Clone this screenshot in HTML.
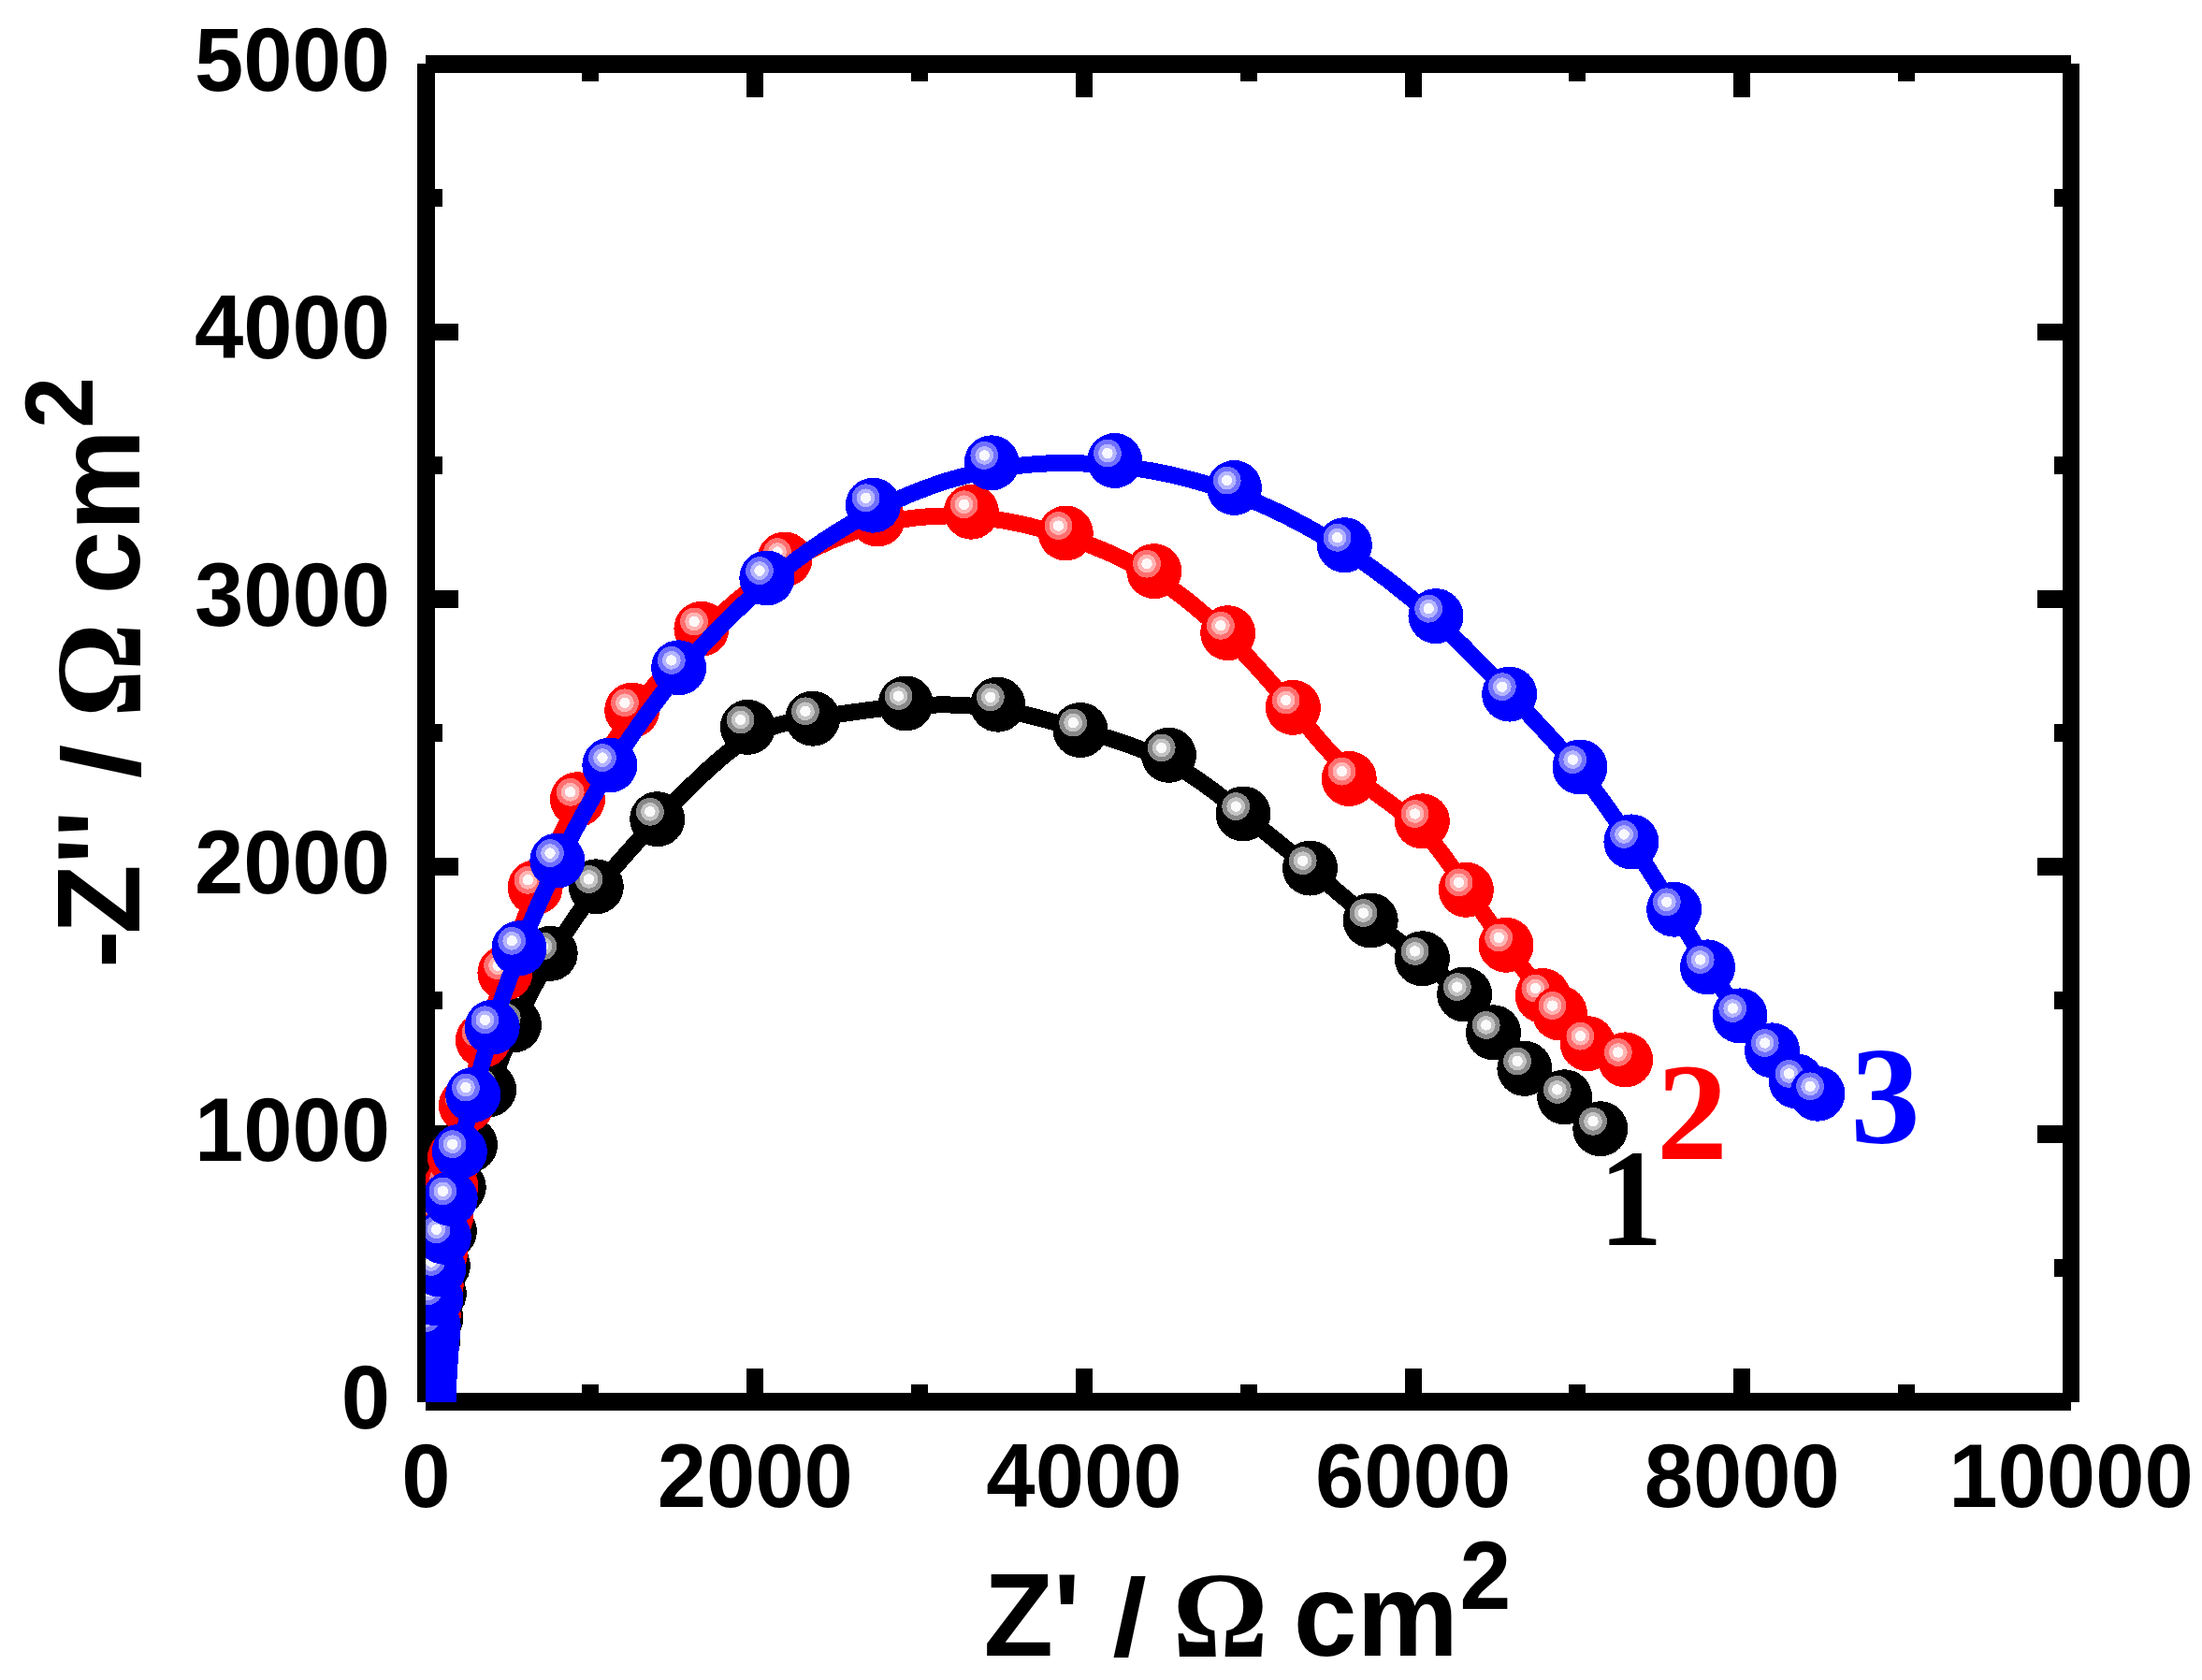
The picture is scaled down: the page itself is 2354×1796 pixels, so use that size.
<!DOCTYPE html>
<html lang="en"><head><meta charset="utf-8"><title>Nyquist plot</title>
<style>html,body{margin:0;padding:0;background:#fff}svg{display:block}.t{font-family:"Liberation Sans",Arial,sans-serif;font-weight:bold;fill:#000}.s{font-family:"Liberation Serif","Times New Roman",serif;font-weight:bold}</style></head><body>
<svg width="2354" height="1796" viewBox="0 0 2354 1796">
<rect width="2354" height="1796" fill="#fff"/>
<defs>
<clipPath id="cp"><rect x="455" y="60" width="1770" height="1439"/></clipPath>
<g id="k"><circle r="29.5" fill="#000"/><circle cx="-7.8" cy="-7.9" r="14.9" fill="#888"/><circle cx="-7.8" cy="-7.9" r="9.9" fill="#c4c4c4"/><circle cx="-7.8" cy="-7.9" r="5.7" fill="#fbfbfb"/></g>
<g id="r"><circle r="29.5" fill="#f00"/><circle cx="-7.8" cy="-7.9" r="14.9" fill="#ff7070"/><circle cx="-7.8" cy="-7.9" r="9.9" fill="#ffb4b4"/><circle cx="-7.8" cy="-7.9" r="5.7" fill="#fff8f8"/></g>
<g id="b"><circle r="29.5" fill="#00f"/><circle cx="-7.8" cy="-7.9" r="14.9" fill="#7070ff"/><circle cx="-7.8" cy="-7.9" r="9.9" fill="#b4b4ff"/><circle cx="-7.8" cy="-7.9" r="5.7" fill="#f8f8ff"/></g>
</defs>
<g fill="#000" shape-rendering="crispEdges">
<rect x="446" y="68" width="19" height="1431"/><rect x="2205" y="68" width="18" height="1431"/><rect x="455" y="59" width="1759" height="19"/><rect x="455" y="1489" width="1759" height="19"/>
</g>
<g fill="#000" shape-rendering="crispEdges"><rect x="622" y="1480" width="18" height="12"/><rect x="622" y="74" width="18" height="13"/><rect x="798" y="1463" width="18" height="30"/><rect x="798" y="74" width="18" height="30"/><rect x="974" y="1480" width="18" height="12"/><rect x="974" y="74" width="18" height="13"/><rect x="1150" y="1463" width="18" height="30"/><rect x="1150" y="74" width="18" height="30"/><rect x="1326" y="1480" width="18" height="12"/><rect x="1326" y="74" width="18" height="13"/><rect x="1502" y="1463" width="18" height="30"/><rect x="1502" y="74" width="18" height="30"/><rect x="1677" y="1480" width="18" height="12"/><rect x="1677" y="74" width="18" height="13"/><rect x="1853" y="1463" width="18" height="30"/><rect x="1853" y="74" width="18" height="30"/><rect x="2029" y="1480" width="18" height="12"/><rect x="2029" y="74" width="18" height="13"/><rect x="460" y="1346" width="13" height="19"/><rect x="2196" y="1346" width="13" height="19"/><rect x="460" y="1203" width="30" height="19"/><rect x="2178" y="1203" width="31" height="19"/><rect x="460" y="1060" width="13" height="19"/><rect x="2196" y="1060" width="13" height="19"/><rect x="460" y="917" width="30" height="19"/><rect x="2178" y="917" width="31" height="19"/><rect x="460" y="774" width="13" height="19"/><rect x="2196" y="774" width="13" height="19"/><rect x="460" y="631" width="30" height="19"/><rect x="2178" y="631" width="31" height="19"/><rect x="460" y="488" width="13" height="19"/><rect x="2196" y="488" width="13" height="19"/><rect x="460" y="346" width="30" height="18"/><rect x="2178" y="346" width="31" height="18"/><rect x="460" y="202" width="13" height="19"/><rect x="2196" y="202" width="13" height="19"/></g>
<text class="t" font-size="94" text-anchor="end" transform="translate(417.0 1527.0) scale(1 1.034)" xml:space="preserve">0</text>
<text class="t" font-size="94" text-anchor="end" transform="translate(417.0 1241.0) scale(1 1.034)" xml:space="preserve">1000</text>
<text class="t" font-size="94" text-anchor="end" transform="translate(417.0 955.0) scale(1 1.034)" xml:space="preserve">2000</text>
<text class="t" font-size="94" text-anchor="end" transform="translate(417.0 669.0) scale(1 1.034)" xml:space="preserve">3000</text>
<text class="t" font-size="94" text-anchor="end" transform="translate(417.0 383.0) scale(1 1.034)" xml:space="preserve">4000</text>
<text class="t" font-size="94" text-anchor="end" transform="translate(417.0 97.0) scale(1 1.034)" xml:space="preserve">5000</text>
<text class="t" font-size="94" text-anchor="middle" transform="translate(455.5 1611.0) scale(1 1.034)" xml:space="preserve">0</text>
<text class="t" font-size="94" text-anchor="middle" transform="translate(807.2 1611.0) scale(1 1.034)" xml:space="preserve">2000</text>
<text class="t" font-size="94" text-anchor="middle" transform="translate(1158.9 1611.0) scale(1 1.034)" xml:space="preserve">4000</text>
<text class="t" font-size="94" text-anchor="middle" transform="translate(1510.6 1611.0) scale(1 1.034)" xml:space="preserve">6000</text>
<text class="t" font-size="94" text-anchor="middle" transform="translate(1862.3 1611.0) scale(1 1.034)" xml:space="preserve">8000</text>
<text class="t" font-size="94" text-anchor="middle" transform="translate(2214.0 1611.0) scale(1 1.034)" xml:space="preserve">10000</text>
<text class="t" font-size="122" transform="translate(1051.5 1770.0) scale(1 1.040)" xml:space="preserve">Z'</text>
<text class="t" font-size="122" text-anchor="middle" transform="translate(1207.6 1770.0) scale(1.08 0.965)" xml:space="preserve">/</text>
<text class="s" font-size="127" text-anchor="middle" transform="translate(1304.5 1771.0) scale(1 1.040)" xml:space="preserve">Ω</text>
<text class="t" font-size="122" text-anchor="middle" transform="translate(1470.8 1770.0) scale(1 1.040)" xml:space="preserve">cm</text>
<text class="t" font-size="98.5" text-anchor="middle" transform="translate(1588.0 1719.5) scale(1 1.060)" xml:space="preserve">2</text>
<text class="t" font-size="122" transform="translate(149.0 1035.0) rotate(-90) scale(1 1.040)" xml:space="preserve">-</text>
<text class="t" font-size="122" transform="translate(149.0 998.7) rotate(-90) scale(1 1.040)" xml:space="preserve">Z''</text>
<text class="t" font-size="122" text-anchor="middle" transform="translate(149.0 814.0) rotate(-90) scale(1.08 0.965)" xml:space="preserve">/</text>
<text class="s" font-size="126" text-anchor="middle" transform="translate(149.5 716.5) rotate(-90) scale(1 1.040)" xml:space="preserve">Ω</text>
<text class="t" font-size="122" text-anchor="middle" transform="translate(149.0 547.3) rotate(-90) scale(1 1.040)" xml:space="preserve">cm</text>
<text class="t" font-size="98.5" text-anchor="middle" transform="translate(99.0 430.3) rotate(-90) scale(1 1.060)" xml:space="preserve">2</text>
<g clip-path="url(#cp)" shape-rendering="crispEdges">
<path d="M457.6 1492.0C457.6 1492.0 457.6 1492.0 457.7 1489.7C457.8 1487.3 458.0 1482.7 458.3 1477.7C458.5 1472.7 458.9 1467.3 459.3 1462.2C459.8 1457.0 460.4 1452.0 461.0 1447.0C461.7 1442.0 462.3 1437.0 463.2 1430.7C464.0 1424.3 465.0 1416.7 466.1 1408.5C467.1 1400.3 468.3 1391.7 469.5 1382.3C470.7 1373.0 472.1 1363.0 473.9 1351.9C475.7 1340.8 478.1 1328.5 480.9 1314.6C483.7 1300.6 486.9 1285.0 490.6 1269.6C494.3 1254.2 498.4 1239.0 503.8 1221.6C509.2 1204.2 515.9 1184.4 523.7 1163.1C531.6 1141.7 540.5 1118.7 551.5 1094.5C562.4 1070.3 575.3 1044.8 589.9 1020.2C604.6 995.5 620.9 971.7 640.0 947.7C659.1 923.8 680.9 899.7 707.9 871.3C734.9 842.9 767.2 810.2 794.8 792.2C822.5 774.3 845.6 771.3 873.8 767.0C901.9 762.8 935.1 757.4 968.1 754.9C1001.1 752.4 1033.8 752.8 1065.0 757.6C1096.1 762.3 1125.5 771.4 1156.0 780.4C1186.5 789.4 1218.0 798.4 1247.0 813.3C1276.0 828.2 1302.5 849.1 1327.7 869.2C1352.8 889.4 1376.7 908.7 1399.4 927.7C1422.1 946.7 1443.6 965.4 1463.6 981.5C1483.6 997.6 1502.0 1011.2 1518.7 1024.4C1535.5 1037.5 1550.5 1050.3 1563.2 1063.4C1575.9 1076.6 1586.2 1090.2 1596.9 1103.4C1607.6 1116.7 1618.8 1129.5 1631.5 1141.0C1644.1 1152.5 1658.4 1162.7 1671.9 1173.4C1685.3 1184.1 1698.1 1195.4 1704.4 1201.0C1710.8 1206.7 1710.8 1206.7 1710.8 1206.7" fill="none" stroke="#000" stroke-width="18" stroke-linejoin="round" stroke-linecap="butt"/>
<use href="#k" x="457.6" y="1492.0"/><use href="#k" x="458.2" y="1478.0"/><use href="#k" x="459.2" y="1462.0"/><use href="#k" x="461.0" y="1447.0"/><use href="#k" x="463.0" y="1432.0"/><use href="#k" x="466.0" y="1409.0"/><use href="#k" x="469.4" y="1383.0"/><use href="#k" x="473.4" y="1353.0"/><use href="#k" x="480.4" y="1316.3"/><use href="#k" x="490.2" y="1269.3"/><use href="#k" x="502.5" y="1223.9"/><use href="#k" x="522.6" y="1164.7"/><use href="#k" x="549.5" y="1095.7"/><use href="#k" x="588.2" y="1019.4"/><use href="#k" x="637.3" y="947.8"/><use href="#k" x="702.7" y="875.7"/><use href="#k" x="799.4" y="777.4"/><use href="#k" x="868.7" y="768.2"/><use href="#k" x="968.3" y="752.0"/><use href="#k" x="1066.6" y="753.2"/><use href="#k" x="1155.0" y="780.5"/><use href="#k" x="1249.5" y="807.3"/><use href="#k" x="1329.0" y="870.0"/><use href="#k" x="1400.5" y="928.1"/><use href="#k" x="1465.2" y="984.0"/><use href="#k" x="1520.4" y="1024.8"/><use href="#k" x="1565.6" y="1063.0"/><use href="#k" x="1596.5" y="1103.8"/><use href="#k" x="1629.9" y="1142.4"/><use href="#k" x="1672.6" y="1172.8"/><use href="#k" x="1710.8" y="1206.7"/>
<path d="M458.0 1490.0C458.0 1490.0 458.0 1490.0 458.1 1487.5C458.2 1485.0 458.3 1480.0 458.5 1475.0C458.7 1470.0 458.8 1465.0 459.1 1460.0C459.3 1455.0 459.7 1450.0 460.1 1445.0C460.4 1440.0 460.9 1435.0 461.4 1428.5C462.0 1422.0 462.6 1414.0 463.4 1404.7C464.3 1395.3 465.2 1384.7 466.4 1373.7C467.6 1362.7 469.1 1351.3 470.9 1339.0C472.7 1326.7 474.8 1313.3 476.8 1301.3C478.7 1289.3 480.3 1278.7 481.9 1268.2C483.5 1257.8 485.0 1247.7 487.7 1233.3C490.5 1218.9 494.4 1200.3 499.4 1179.4C504.4 1158.5 510.4 1135.2 517.3 1111.6C524.2 1088.0 532.1 1064.1 541.4 1036.8C550.7 1009.6 561.4 979.2 574.4 948.3C587.3 917.4 602.4 886.0 619.6 854.5C636.9 822.9 656.3 791.0 678.4 760.6C700.4 730.2 725.2 701.3 752.4 674.4C779.5 647.5 809.2 622.8 840.5 603.2C871.9 583.7 904.9 569.3 938.2 560.9C971.5 552.4 1004.9 549.8 1038.5 552.3C1072.0 554.8 1105.7 562.4 1138.2 573.0C1170.8 583.5 1202.3 597.1 1231.2 614.9C1260.1 632.6 1286.4 654.7 1311.2 679.0C1335.9 703.3 1359.2 729.8 1380.8 755.8C1402.4 781.8 1422.3 807.1 1445.3 827.4C1468.3 847.6 1494.4 862.8 1515.2 882.6C1536.1 902.4 1551.7 926.8 1566.7 948.9C1581.6 971.0 1595.8 990.6 1609.4 1009.5C1623.1 1028.4 1636.1 1046.4 1645.7 1058.5C1655.3 1070.7 1661.3 1076.8 1669.3 1085.4C1677.3 1093.9 1687.3 1104.7 1699.0 1113.0C1710.7 1121.4 1724.1 1127.1 1730.9 1130.0C1737.6 1132.9 1737.6 1132.9 1737.6 1132.9" fill="none" stroke="#f00" stroke-width="18" stroke-linejoin="round" stroke-linecap="butt"/>
<use href="#r" x="458.0" y="1490.0"/><use href="#r" x="458.5" y="1475.0"/><use href="#r" x="459.0" y="1460.0"/><use href="#r" x="460.0" y="1445.0"/><use href="#r" x="461.3" y="1430.0"/><use href="#r" x="463.3" y="1406.0"/><use href="#r" x="466.2" y="1374.0"/><use href="#r" x="470.5" y="1340.0"/><use href="#r" x="477.0" y="1300.0"/><use href="#r" x="482.0" y="1268.0"/><use href="#r" x="486.5" y="1237.5"/><use href="#r" x="498.4" y="1181.7"/><use href="#r" x="516.4" y="1112.0"/><use href="#r" x="539.9" y="1040.1"/><use href="#r" x="572.2" y="948.7"/><use href="#r" x="617.5" y="854.7"/><use href="#r" x="675.7" y="759.2"/><use href="#r" x="749.9" y="672.3"/><use href="#r" x="838.8" y="598.0"/><use href="#r" x="938.0" y="555.0"/><use href="#r" x="1038.4" y="547.2"/><use href="#r" x="1139.3" y="570.0"/><use href="#r" x="1233.8" y="610.6"/><use href="#r" x="1312.7" y="676.7"/><use href="#r" x="1382.4" y="756.4"/><use href="#r" x="1442.3" y="832.5"/><use href="#r" x="1520.4" y="877.9"/><use href="#r" x="1567.4" y="951.3"/><use href="#r" x="1610.0" y="1010.3"/><use href="#r" x="1649.2" y="1064.5"/><use href="#r" x="1667.4" y="1083.0"/><use href="#r" x="1697.2" y="1115.6"/><use href="#r" x="1737.6" y="1132.9"/>
<path d="M458.4 1494.0C458.4 1494.0 458.4 1494.0 458.4 1492.8C458.5 1491.7 458.5 1489.3 458.6 1486.8C458.7 1484.3 458.8 1481.7 458.9 1479.0C459.0 1476.3 459.2 1473.7 459.3 1471.0C459.5 1468.3 459.6 1465.7 459.8 1463.0C460.0 1460.3 460.1 1457.7 460.3 1455.0C460.5 1452.3 460.7 1449.7 460.9 1447.0C461.1 1444.3 461.3 1441.7 461.5 1439.0C461.7 1436.3 461.9 1433.7 462.1 1431.2C462.3 1428.7 462.4 1426.3 462.6 1424.0C462.8 1421.7 463.0 1419.3 463.5 1413.3C464.1 1407.3 464.9 1397.7 465.8 1387.6C466.8 1377.6 467.7 1367.3 469.2 1356.3C470.6 1345.3 472.5 1333.8 474.6 1321.2C476.7 1308.6 478.9 1294.9 481.8 1279.8C484.6 1264.6 488.0 1247.8 492.1 1229.4C496.2 1210.9 500.9 1190.7 506.7 1168.5C512.5 1146.4 519.4 1122.3 527.6 1096.2C535.8 1070.0 545.4 1041.9 557.0 1012.2C568.6 982.5 582.2 951.2 598.3 918.6C614.5 886.0 633.1 852.0 654.8 817.6C676.4 783.3 701.0 748.5 729.0 715.2C757.0 681.9 788.4 649.9 823.0 621.0C857.7 592.1 895.5 566.1 935.6 545.6C975.6 525.1 1017.9 509.9 1060.9 502.0C1104.0 494.0 1147.8 493.3 1191.1 497.7C1234.3 502.2 1276.9 511.8 1317.9 526.9C1358.8 541.9 1398.1 562.3 1434.0 585.1C1469.9 608.0 1502.5 633.3 1531.8 659.9C1561.2 686.4 1587.4 714.3 1613.1 741.2C1638.7 768.1 1663.9 794.0 1685.6 820.3C1707.3 846.6 1725.6 873.3 1742.4 898.6C1759.1 924.0 1774.4 948.1 1788.0 970.4C1801.6 992.8 1813.5 1013.3 1825.3 1032.3C1837.0 1051.2 1848.5 1068.6 1860.0 1083.4C1871.5 1098.2 1883.0 1110.6 1893.1 1122.2C1903.1 1133.9 1911.8 1144.8 1919.8 1152.5C1927.9 1160.3 1935.4 1164.7 1939.2 1167.0C1942.9 1169.2 1942.9 1169.2 1942.9 1169.2" fill="none" stroke="#00f" stroke-width="18" stroke-linejoin="round" stroke-linecap="butt"/>
<use href="#b" x="458.4" y="1494.0"/><use href="#b" x="458.6" y="1487.0"/><use href="#b" x="458.9" y="1479.0"/><use href="#b" x="459.3" y="1471.0"/><use href="#b" x="459.8" y="1463.0"/><use href="#b" x="460.3" y="1455.0"/><use href="#b" x="460.9" y="1447.0"/><use href="#b" x="461.5" y="1439.0"/><use href="#b" x="462.1" y="1431.0"/><use href="#b" x="462.6" y="1424.0"/><use href="#b" x="463.2" y="1417.0"/><use href="#b" x="465.8" y="1388.0"/><use href="#b" x="468.7" y="1356.9"/><use href="#b" x="474.4" y="1322.2"/><use href="#b" x="481.2" y="1281.3"/><use href="#b" x="491.4" y="1231.1"/><use href="#b" x="505.7" y="1170.5"/><use href="#b" x="526.2" y="1098.2"/><use href="#b" x="555.0" y="1013.7"/><use href="#b" x="595.8" y="920.0"/><use href="#b" x="651.8" y="818.0"/><use href="#b" x="725.6" y="713.8"/><use href="#b" x="819.8" y="618.0"/><use href="#b" x="933.4" y="540.2"/><use href="#b" x="1060.1" y="494.8"/><use href="#b" x="1191.7" y="492.5"/><use href="#b" x="1319.5" y="521.5"/><use href="#b" x="1437.4" y="582.7"/><use href="#b" x="1535.0" y="658.6"/><use href="#b" x="1613.6" y="742.1"/><use href="#b" x="1689.0" y="820.0"/><use href="#b" x="1743.9" y="899.9"/><use href="#b" x="1789.6" y="972.2"/><use href="#b" x="1825.5" y="1033.9"/><use href="#b" x="1860.0" y="1085.9"/><use href="#b" x="1894.5" y="1122.9"/><use href="#b" x="1920.4" y="1155.8"/><use href="#b" x="1942.9" y="1169.2"/>
</g>
<text class="s" font-size="149" text-anchor="middle" fill="#000" transform="translate(1743.5 1331.0) scale(0.91 1)" xml:space="preserve">1</text>
<text class="s" font-size="149" text-anchor="middle" fill="#f00" transform="translate(1809.0 1239.0) scale(1.025 1)" xml:space="preserve">2</text>
<text class="s" font-size="149" text-anchor="middle" fill="#00f" transform="translate(2015.5 1221.5) scale(1 1.000)" xml:space="preserve">3</text>
</svg></body></html>
